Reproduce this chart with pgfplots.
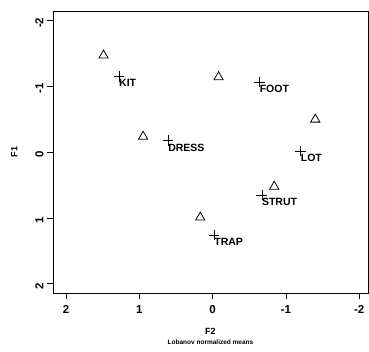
\documentclass[border=0pt]{standalone}
\usepackage{pgfplots}
\pgfplotsset{compat=1.18}
\usepackage{fontspec}
\setmainfont{Liberation Sans}
\begin{document}
\begin{tikzpicture}
\begin{axis}[
  scale only axis, width=315pt, height=282pt,
  x dir=reverse, y dir=reverse,
  xmin=-2.12, xmax=2.18, ymin=-2.15, ymax=2.14,
  xtick={-2,-1,0,1,2}, ytick={-2,-1,0,1,2},
  xtick pos=bottom, ytick pos=left,
  tick align=outside, major tick length=6pt,
  axis line style={line width=0.8pt}, tick style={line width=0.8pt, black},
  /pgf/number format/assume math mode=true,
  ticklabel style={font=\bfseries\fontsize{11.5}{12}\selectfont},
  xticklabel style={yshift=-3pt},
  yticklabel style={rotate=90, anchor=south, xshift=-2pt},
  xlabel={F2}, ylabel={F1},
  xlabel style={font=\bfseries\fontsize{9}{10}\selectfont, yshift=-8pt},
  ylabel style={font=\bfseries\fontsize{9}{10}\selectfont, yshift=11pt},
  every node near coord/.style={anchor=north west, inner sep=0pt, xshift=0pt, yshift=-3pt, font=\bfseries\fontsize{10.5}{12}\selectfont, black},
  clip=false,
]
  \addplot[only marks, mark=+, mark size=5.3pt, line width=0.5pt, black,
    nodes near coords, point meta=explicit symbolic]
    coordinates {(1.28,-1.156) [KIT] (0.61,-0.18) [DRESS] (-0.64,-1.07) [FOOT]
                 (-1.20,-0.02) [LOT] (-0.67,0.65) [STRUT] (-0.02,1.26) [TRAP]};
  \addplot[only marks, mark=triangle, mark size=5.3pt, line width=0.8pt, black]
    coordinates {(1.49,-1.475) (0.95,-0.24) (-0.08,-1.145) (-1.40,-0.50) (-0.84,0.52) (0.17,0.99)};
\end{axis}
\node[font=\bfseries\fontsize{6.5}{8}\selectfont] at ([yshift=-49pt]current axis.south) {Lobanov normalized means};
\path ([xshift=-53pt,yshift=-58pt]current axis.south west) rectangle ([xshift=1pt,yshift=11pt]current axis.north east);
\end{tikzpicture}
\end{document}
